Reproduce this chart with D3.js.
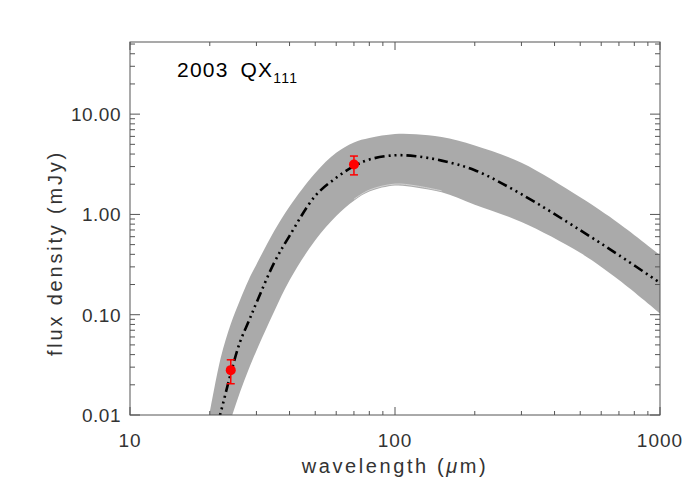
<!DOCTYPE html>
<html><head><meta charset="utf-8">
<script src="https://cdn.jsdelivr.net/npm/d3@7"></script>
<style>body{margin:0;background:#fff}svg{display:block}</style>
</head><body>
<svg id="c" width="700" height="500"></svg>
<script>
// ---- data ----
const wavelengths = [20,22,24,26,28,30,35,40,50,60,70,80,100,120,150,200,300,500,700,1000];
const bestFlux  = [0.0041,0.0106,0.0259,0.0533,0.0849,0.1315,0.330,0.612,1.53,2.32,3.03,3.53,3.89,3.80,3.44,2.76,1.59,0.696,0.392,0.208];
const upperFlux = [0.0106,0.0373,0.0807,0.1396,0.221,0.317,0.683,1.20,2.59,4.11,5.22,5.78,6.33,6.30,5.90,4.88,3.27,1.48,0.813,0.394];
const lowerFlux = [0.0022,0.0045,0.0090,0.0169,0.0283,0.0438,0.1076,0.221,0.552,0.962,1.37,1.69,1.94,1.86,1.66,1.25,0.840,0.414,0.222,0.103];
const obsWave = [24, 70];
const obsFlux = [0.028, 3.15];
const obsErr  = [0.0075, 0.67];
const xTicks = [10, 100, 1000];
const xTickLabels = ["10", "100", "1000"];
const yTicks = [0.01, 0.1, 1, 10];
const yTickLabels = ["0.01", "0.10", "1.00", "10.00"];
const titleMain = "2003 QX";
const titleSub = "111";

// ---- layout ----
const L = 130, R = 660, T = 42, B = 415;
const svg = d3.select("#c");
const x = d3.scaleLog().domain([10, 1000]).range([L, R]);
const y = d3.scaleLog().domain([0.01, 52.4]).range([B, T]);

const defs = svg.append("defs");
defs.append("clipPath").attr("id", "clip").append("rect")
  .attr("x", L).attr("y", T).attr("width", R - L).attr("height", B - T);

const g = svg.append("g").attr("clip-path", "url(#clip)");
const rows = wavelengths.map((w, i) => ({w, b: bestFlux[i], u: upperFlux[i], l: lowerFlux[i]}));
const crv = d3.curveCatmullRom.alpha(0.5);

g.append("path").datum(rows)
  .attr("d", d3.area().curve(crv)
    .x(d => x(d.w)).y0(d => y(d.l)).y1(d => y(d.u)))
  .attr("fill", "#aaaaaa");

// faint light seam just inside the lower edge (as in the reference)
g.append("path").datum(rows.filter(d => d.w >= 70 && d.w <= 150))
  .attr("d", d3.line().curve(crv).x(d => x(d.w)).y(d => y(d.l) - 1.5))
  .attr("fill", "none").attr("stroke", "#dcdcdc").attr("stroke-width", 0.8);

g.append("path").datum(rows)
  .attr("d", d3.line().curve(crv).x(d => x(d.w)).y(d => y(d.b)))
  .attr("fill", "none").attr("stroke", "#000").attr("stroke-width", 2.6)
  .attr("stroke-dasharray", "10,4,2,4,2,4,2,4");

// observations
const obs = obsWave.map((w, i) => ({w, f: obsFlux[i], e: obsErr[i]}));
const og = svg.append("g").attr("stroke", "#ff0000").attr("stroke-width", 1.5);
obs.forEach(d => {
  const cx = x(d.w), y1 = y(d.f + d.e), y0 = y(d.f - d.e);
  og.append("line").attr("x1", cx).attr("x2", cx).attr("y1", y1).attr("y2", y0);
  og.append("line").attr("x1", cx - 4).attr("x2", cx + 4).attr("y1", y1).attr("y2", y1);
  og.append("line").attr("x1", cx - 4).attr("x2", cx + 4).attr("y1", y0).attr("y2", y0);
  svg.append("circle").attr("cx", cx).attr("cy", y(d.f)).attr("r", 5).attr("fill", "#ff0000");
});

// ---- axes ----
const axCol = "#555";
const font = "'Liberation Sans', Arial, sans-serif";
svg.append("rect").attr("x", L).attr("y", T).attr("width", R - L).attr("height", B - T)
  .attr("fill", "none").attr("stroke", axCol).attr("stroke-width", 1);

const xMinor = [];
[10, 100].forEach(dec => { for (let k = 2; k <= 9; k++) xMinor.push(dec * k); });
const yMinor = [];
[0.01, 0.1, 1, 10].forEach(dec => { for (let k = 2; k <= 9; k++) if (dec * k <= 52) yMinor.push(dec * k); });

const tk = svg.append("g").attr("stroke", axCol).attr("stroke-width", 1);
xTicks.forEach(v => {
  tk.append("line").attr("x1", x(v)).attr("x2", x(v)).attr("y1", B).attr("y2", B - 8);
  tk.append("line").attr("x1", x(v)).attr("x2", x(v)).attr("y1", T).attr("y2", T + 8);
});
xMinor.forEach(v => {
  tk.append("line").attr("x1", x(v)).attr("x2", x(v)).attr("y1", B).attr("y2", B - 4);
  tk.append("line").attr("x1", x(v)).attr("x2", x(v)).attr("y1", T).attr("y2", T + 4);
});
yTicks.forEach(v => {
  tk.append("line").attr("x1", L).attr("x2", L + 10).attr("y1", y(v)).attr("y2", y(v));
  tk.append("line").attr("x1", R).attr("x2", R - 10).attr("y1", y(v)).attr("y2", y(v));
});
yMinor.forEach(v => {
  tk.append("line").attr("x1", L).attr("x2", L + 5).attr("y1", y(v)).attr("y2", y(v));
  tk.append("line").attr("x1", R).attr("x2", R - 5).attr("y1", y(v)).attr("y2", y(v));
});

const txtCol = "#333";
xTicks.forEach((v, i) => {
  svg.append("text").attr("x", x(v)).attr("y", 447).attr("text-anchor", "middle")
    .attr("font-family", font).attr("font-size", 19).attr("fill", txtCol)
    .attr("letter-spacing", 1).text(xTickLabels[i]);
});
yTicks.forEach((v, i) => {
  svg.append("text").attr("x", 121).attr("y", y(v) + 7).attr("text-anchor", "end")
    .attr("font-family", font).attr("font-size", 19).attr("fill", txtCol)
    .attr("letter-spacing", 0.5).text(yTickLabels[i]);
});

const xl = svg.append("text").attr("x", 395).attr("y", 473).attr("text-anchor", "middle")
  .attr("font-family", font).attr("font-size", 20).attr("fill", txtCol).attr("letter-spacing", 2.6);
xl.append("tspan").text("wavelength (");
xl.append("tspan").attr("font-style", "italic").text("μ");
xl.append("tspan").text("m)");

svg.append("text").attr("transform", "translate(62,253) rotate(-90)").attr("text-anchor", "middle")
  .attr("font-family", font).attr("font-size", 20).attr("fill", txtCol).attr("letter-spacing", 2.8)
  .text("flux density (mJy)");

const tt = svg.append("text").attr("x", 177).attr("y", 77).attr("font-family", font)
  .attr("font-size", 21).attr("fill", "#000").attr("letter-spacing", 1.2).attr("word-spacing", 5);
tt.append("tspan").text(titleMain);
tt.append("tspan").attr("font-size", 14).attr("dy", 6).attr("dx", 0).text(titleSub);
</script>
</body></html>
